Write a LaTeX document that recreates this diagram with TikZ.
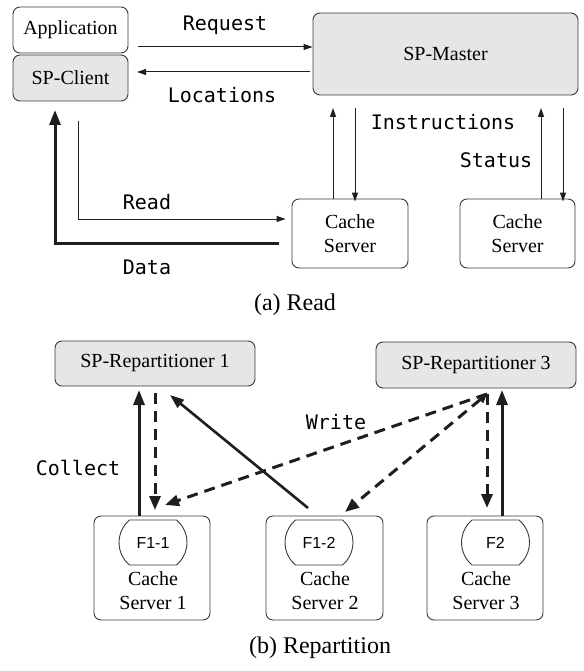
\documentclass[tikz,border=0pt]{standalone}
\usepackage{fontspec}
\setmainfont{Liberation Serif}
\setmonofont{DejaVu Sans Mono}
\setsansfont{Liberation Sans}
\usetikzlibrary{arrows.meta,shapes.misc}
\definecolor{grayc}{HTML}{E6E6E6}
\definecolor{boxc}{HTML}{3A3A3A}
\definecolor{linec}{HTML}{1E1E1E}
\newcommand\serlab{\fontsize{20}{24}\selectfont\rmfamily}
\newcommand\ttlab{\fontsize{20}{24}\selectfont\ttfamily}
\newcommand\sflab{\fontsize{16}{19}\selectfont\sffamily}
\newcommand\caplab{\fontsize{24}{28}\selectfont\rmfamily}
\begin{document}
\begin{tikzpicture}[x=1pt,y=-1pt,
  box/.style={draw=boxc, line width=0.9pt, rounded corners=7pt, inner sep=0pt, font=\serlab, align=center, fill=white},
  gbox/.style={box, fill=grayc},
  fbox/.style={draw=boxc, line width=0.9pt, rounded rectangle, rounded rectangle arc length=100, inner sep=0pt, minimum width=68pt, minimum height=45pt, font=\sflab},
  lab/.style={font=\ttlab, inner sep=0pt},
  thinarr/.style={draw=linec, line width=1pt, -{Triangle[length=9pt,width=6pt]}},
  thickarr/.style={draw=linec, line width=3pt, -{Triangle[length=15pt,width=11pt]}},
  medarr/.style={draw=linec, line width=2.6pt, -{Triangle[length=14pt,width=10pt]}},
  dasharr/.style={draw=linec, line width=3pt, dash pattern=on 11pt off 7pt, -{Triangle[length=14pt,width=11pt]}}
]
\useasboundingbox (0,0) rectangle (583,671);

% ---------- (a) Read ----------
\node[box, minimum width=115pt, minimum height=46pt] (app) at (70.5,30) {Application};
\node[gbox, minimum width=115pt, minimum height=46pt] (client) at (70.5,78) {SP-Client};
\node[gbox, minimum width=265pt, minimum height=82pt] (master) at (445.5,54) {SP-Master};
\node[box, minimum width=116pt, minimum height=69pt] (csA) at (350,233.5) {Cache\\Server};
\node[box, minimum width=115pt, minimum height=69pt] (csB) at (517.5,233.5) {Cache\\Server};

\coordinate (reqS) at (138,47);
\draw[thinarr] (reqS) -- (reqS -| master.west);
\coordinate (locE) at (137,72);
\draw[thinarr] ([xshift=-3pt]locE -| master.west) -- (locE);

\coordinate (iu) at (333,108);
\coordinate (id) at (355,108);
\draw[thinarr] (iu |- csA.north) -- (iu);
\draw[thinarr] (id) -- ([yshift=-3pt]id |- csA.north);
\coordinate (su) at (541,108);
\coordinate (sd) at (563,108);
\draw[thinarr] (su |- csB.north) -- (su);
\draw[thinarr] (sd) -- ([yshift=-3pt]sd |- csB.north);

\coordinate (rdS) at (78,121);
\coordinate (rdC) at (78,219);
\draw[thinarr, line width=0.9pt] (rdS) -- (rdC) -- ([xshift=-6pt]rdC -| csA.west);
\coordinate (dtS) at (279,243);
\coordinate (dtC) at (55,243);
\coordinate (dtE) at (55,110);
\draw[thickarr] (dtS) -- (dtC) -- (dtE);

\node[lab] (lreq) at (225,25) {Request};
\node[lab] (lloc) at (222,95) {Locations};
\node[lab] (lins) at (443,122) {Instructions};
\node[lab] (lsta) at (496,160) {Status};
\node[lab] (lrd) at (147,202) {Read};
\node[lab] (ldt) at (147,267) {Data};
\node[font=\caplab, inner sep=0pt] (capa) at (295,305) {(a) Read};

% ---------- (b) Repartition ----------
\node[gbox, minimum width=200pt, minimum height=45pt] (rep1) at (155,363.5) {SP-Repartitioner 1};
\node[gbox, minimum width=200pt, minimum height=46pt] (rep3) at (476,365) {SP-Repartitioner 3};

\node[box, minimum width=116pt, minimum height=104pt] (cs1) at (152,568) {};
\node[box, minimum width=117pt, minimum height=104pt] (cs2) at (324.5,568) {};
\node[box, minimum width=116pt, minimum height=104pt] (cs3) at (485,568) {};
\node[fbox] (f11) at (153,542.5) {F1-1};
\node[fbox] (f12) at (319,542.5) {F1-2};
\node[fbox] (f2) at (495.5,542.5) {F2};
\node[font=\serlab, align=center, inner sep=0pt] (t1) at (153,591) {Cache\\Server 1};
\node[font=\serlab, align=center, inner sep=0pt] (t2) at (325,591) {Cache\\Server 2};
\node[font=\serlab, align=center, inner sep=0pt] (t3) at (486,591) {Cache\\Server 3};

% Collect
\coordinate (c1) at (139,390);
\draw[thickarr] (c1 |- cs1.north) -- (c1);
\coordinate (d1s) at (155,393);
\coordinate (d1e) at (155,510);
\draw[dasharr] (d1s) -- (d1e);
\coordinate (m2s) at (308,508);
\coordinate (m2e) at (170,395);
\draw[medarr] (m2s) -- (m2e);
% Write
\coordinate (w0) at (487,394);
\coordinate (w1) at (165,505);
\coordinate (w2) at (345,512);
\draw[dasharr] (w0) -- (w1);
\draw[dasharr, {Triangle[length=9pt,width=9pt]}-{Triangle[length=14pt,width=11pt]}] (w0) -- (w2);
\coordinate (w3) at (487,508);
\draw[dasharr] (w0) -- (w3);
\coordinate (c3) at (502,390);
\draw[thickarr] (c3 |- cs3.north) -- (c3);

\node[lab] (lcol) at (78,468) {Collect};
\node[lab] (lwr) at (336,422) {Write};
\node[font=\caplab, inner sep=0pt] (capb) at (320,648) {(b) Repartition};
\end{tikzpicture}
\end{document}
